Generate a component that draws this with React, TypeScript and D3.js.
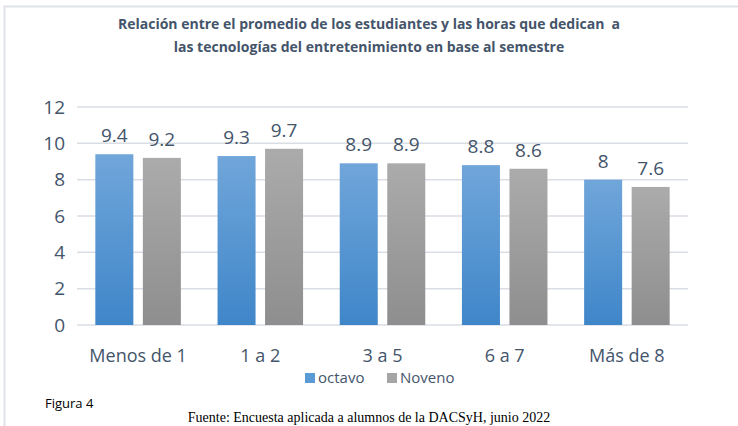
import React from "react";
import * as d3 from "d3";

const categories = ["Menos de 1", "1 a 2", "3 a 5", "6 a 7", "Más de 8"];
const octavo = [9.4, 9.3, 8.9, 8.8, 8];
const noveno = [9.2, 9.7, 8.9, 8.6, 7.6];
const seriesNames = ["octavo", "Noveno"];
const yTicks = [0, 2, 4, 6, 8, 10, 12];

const W = 738;
const H = 426;
const margin = { top: 107, right: 50, bottom: 101, left: 77 };
const textColor = "#44546a";
const font = "'Open Sans', 'Noto Sans', sans-serif";

const App = () => {
  const innerW = W - margin.left - margin.right;
  const innerH = H - margin.top - margin.bottom;

  const x0 = d3.scaleBand().domain(categories).range([0, innerW]).paddingInner(0.3).paddingOuter(0.15);
  const x1 = d3.scaleBand().domain(seriesNames).range([0, x0.bandwidth()]).paddingInner(0.2);
  const y = d3.scaleLinear().domain([0, 12]).range([innerH, 0]);

  const rows = categories.map((c, i) => ({ cat: c, values: [octavo[i], noveno[i]] }));
  const fills = ["url(#gBlue)", "url(#gGray)"];

  return (
    <svg width={W} height={H} style={{ position: "absolute", left: 0, top: 0 }}>
      <defs>
        <linearGradient id="gBlue" x1="0" y1="0" x2="0" y2="1">
          <stop offset="0%" stopColor="#70a6da" />
          <stop offset="100%" stopColor="#3f86c9" />
        </linearGradient>
        <linearGradient id="gGray" x1="0" y1="0" x2="0" y2="1">
          <stop offset="0%" stopColor="#ababab" />
          <stop offset="100%" stopColor="#8e8e8e" />
        </linearGradient>
      </defs>
      <rect x={0} y={0} width={W} height={H} fill="#fff" />
      {/* borde del gráfico */}
      <path d={`M4.5,${H} V6.5 H${W}`} fill="none" stroke="#dfe2e7" strokeWidth={2} />

      <text x={369} y={29} textAnchor="middle" fontFamily={font} fontWeight="bold" fontSize={14} fill={textColor} style={{ whiteSpace: "pre" }}>
        {"Relación entre el promedio de los estudiantes y las horas que dedican  a"}
      </text>
      <text x={369} y={52} textAnchor="middle" fontFamily={font} fontWeight="bold" fontSize={14} fill={textColor}>
        las tecnologías del entretenimiento en base al semestre
      </text>

      <g transform={`translate(${margin.left},${margin.top})`}>
        {yTicks.map((t) => (
          <g key={t}>
            <line x1={0} x2={innerW} y1={y(t)} y2={y(t)} stroke="#d9dde4" strokeWidth={1.5} />
            <text x={-12} y={y(t)} dy="0.35em" textAnchor="end" fontFamily={font} fontSize={19} fill={textColor}>
              {t}
            </text>
          </g>
        ))}
        {rows.map((r) => (
          <g key={r.cat} transform={`translate(${x0(r.cat)},0)`}>
            {r.values.map((v, j) => (
              <g key={j}>
                <rect
                  x={x1(seriesNames[j])}
                  y={y(v)}
                  width={x1.bandwidth()}
                  height={innerH - y(v)}
                  fill={fills[j]}
                />
                <text
                  x={(x1(seriesNames[j]) || 0) + x1.bandwidth() / 2}
                  y={y(v) - 12}
                  textAnchor="middle"
                  fontFamily={font}
                  fontSize={19}
                  fill={textColor}
                >
                  {String(v)}
                </text>
              </g>
            ))}
            <text
              x={x0.bandwidth() / 2}
              y={innerH + 37}
              textAnchor="middle"
              fontFamily={font}
              fontSize={18}
              fill={textColor}
            >
              {r.cat}
            </text>
          </g>
        ))}
      </g>

      {/* leyenda */}
      <g transform="translate(305,373)">
        <rect x={0} y={0} width={10} height={10} fill="#5b9bd5" />
        <text x={13} y={9.5} fontFamily={font} fontSize={15} fill={textColor}>{seriesNames[0]}</text>
        <rect x={82} y={0} width={10} height={10} fill="#a5a5a5" />
        <text x={95} y={9.5} fontFamily={font} fontSize={15} fill={textColor}>{seriesNames[1]}</text>
      </g>

      <text x={45} y={408} fontFamily={font} fontSize={13} fill="#000">Figura 4</text>
      <text x={369} y={422} textAnchor="middle" fontFamily="'Liberation Serif', 'Times New Roman', serif" fontSize={14} fill="#000">
        Fuente: Encuesta aplicada a alumnos de la DACSyH, junio 2022
      </text>
    </svg>
  );
};

export default App;
